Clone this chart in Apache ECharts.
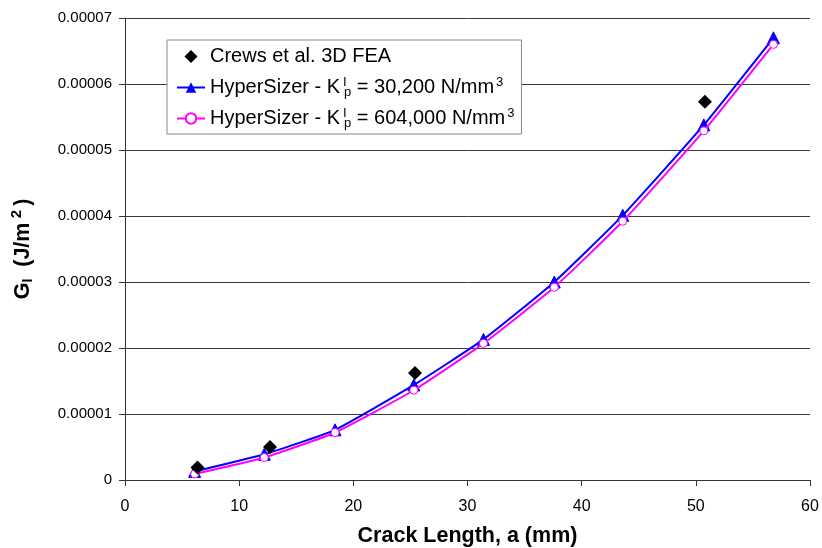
<!DOCTYPE html>
<html>
<head>
<meta charset="utf-8">
<script src="https://cdn.jsdelivr.net/npm/echarts@6/dist/echarts.min.js"></script>
<style>
  html, body { margin: 0; padding: 0; background: #fff; }
  #chart { width: 822px; height: 548px; }
</style>
</head>
<body>
<div id="chart"></div>
<script>
// Crack length (mm) at each analysis point
const crewsCrack = [6.35, 12.7, 25.4, 50.8];
const crewsG = [0.0000019, 0.0000050, 0.0000162, 0.0000573];

const hsCrack = [6.1, 12.2, 18.4, 25.3, 31.4, 37.6, 43.6, 50.7, 56.8];
const hsSoftG = [0.0000013, 0.0000039, 0.0000076, 0.0000144, 0.0000213, 0.0000300, 0.0000401, 0.0000538, 0.0000670];
const hsStiffG = [0.0000009, 0.0000034, 0.0000072, 0.0000136, 0.0000207, 0.0000292, 0.0000392, 0.0000529, 0.0000660];

const seriesNames = ['Crews et al. 3D FEA', 'HyperSizer Kp 30200', 'HyperSizer Kp 604000'];
const legendLabels = [
  'Crews et al. 3D FEA',
  'HyperSizer - K{supI|I}{sub|p} = 30,200 N/mm{sup|3}',
  'HyperSizer - K{supI|I}{sub|p} = 604,000 N/mm{sup|3}'
];

const toPairs = (xs, ys) => xs.map((x, i) => [x, ys[i]]);

const FONT = 'Liberation Sans, Arial, sans-serif';
const chart = echarts.init(document.getElementById('chart'), null, { renderer: 'canvas' });

chart.setOption({
  backgroundColor: '#ffffff',
  animation: false,
  textStyle: { fontFamily: FONT, color: '#000' },
  grid: { left: 125, right: 12, top: 18, bottom: 68, containLabel: false, outerBoundsMode: 'none' },
  legend: {
    data: [
      { name: seriesNames[0], icon: 'path://M0,-1L1,0L0,1L-1,0Z' },
      { name: seriesNames[1] },
      { name: seriesNames[2] }
    ],
    orient: 'vertical',
    left: 167,
    top: 40,
    padding: [5, 7, 4, 9],
    itemGap: 8,
    itemWidth: 28,
    itemHeight: 13,
    symbolKeepAspect: true,
    backgroundColor: '#ffffff',
    borderColor: '#8a8a8a',
    borderWidth: 1,
    borderRadius: 0,
    formatter: name => legendLabels[seriesNames.indexOf(name)],
    textStyle: {
      fontFamily: FONT,
      fontSize: 20,
      lineHeight: 23,
      color: '#000',
      rich: {
        supI: { fontFamily: FONT, fontSize: 13, width: 1, verticalAlign: 'top', lineHeight: 14, padding: [0, 0, 0, 3] },
        sub: { fontFamily: FONT, fontSize: 13, verticalAlign: 'bottom', lineHeight: 14 },
        sup: { fontFamily: FONT, fontSize: 13, verticalAlign: 'top', lineHeight: 14, padding: [0, 0, 0, 2] }
      }
    }
  },
  xAxis: {
    type: 'value',
    min: 0,
    max: 60,
    interval: 10,
    name: 'Crack Length, a (mm)',
    nameLocation: 'middle',
    nameGap: 45,
    nameTextStyle: { fontFamily: FONT, fontSize: 21.5, fontWeight: 'bold', color: '#000' },
    axisLine: { show: true, onZero: false, lineStyle: { color: '#333', width: 1 } },
    axisTick: { show: true, inside: false, length: 6, lineStyle: { color: '#333' } },
    axisLabel: { fontFamily: FONT, fontSize: 16, color: '#000', margin: 19 },
    splitLine: { show: false }
  },
  yAxis: {
    type: 'value',
    min: 0,
    max: 0.00007,
    interval: 0.00001,
    name: 'G{sub|I}  (J/m{sup| 2 })',
    nameLocation: 'middle',
    nameRotate: 90,
    nameGap: 87,
    nameTextStyle: {
      fontFamily: FONT, fontSize: 21.5, fontWeight: 'bold', color: '#000',
      rich: {
        sub: { fontFamily: FONT, fontSize: 14, fontWeight: 'bold', padding: [10, 0, 0, 0] },
        sup: { fontFamily: FONT, fontSize: 15, fontWeight: 'bold', padding: [0, 0, 14, 0] }
      }
    },
    axisLine: { show: true, lineStyle: { color: '#333', width: 1 } },
    axisTick: { show: true, inside: false, length: 6, lineStyle: { color: '#333' } },
    axisLabel: {
      fontFamily: FONT, fontSize: 15, color: '#000', margin: 13,
      formatter: v => (v === 0 ? '0' : v.toFixed(5))
    },
    splitLine: { show: true, lineStyle: { color: '#3a3a3a', width: 1 } }
  },
  series: [
    {
      name: seriesNames[1],
      type: 'line',
      data: toPairs(hsCrack, hsSoftG),
      smooth: 0.15,
      symbol: 'triangle',
      symbolSize: 12,
      showAllSymbol: true,
      lineStyle: { color: '#0000ff', width: 2 },
      itemStyle: { color: '#0000ff', borderColor: '#0000ff' },
      z: 2
    },
    {
      name: seriesNames[2],
      type: 'line',
      data: toPairs(hsCrack, hsStiffG),
      smooth: 0.15,
      symbol: 'circle',
      symbolSize: 8,
      showAllSymbol: true,
      lineStyle: { color: '#ff00ff', width: 2 },
      itemStyle: { color: '#ffffff', borderColor: '#ff00ff', borderWidth: 1 },
      z: 3
    },
    {
      name: seriesNames[0],
      type: 'scatter',
      data: toPairs(crewsCrack, crewsG),
      symbol: 'diamond',
      symbolSize: 14,
      itemStyle: { color: '#000000', opacity: 1 },
      z: 4
    }
  ]
});
</script>
</body>
</html>
